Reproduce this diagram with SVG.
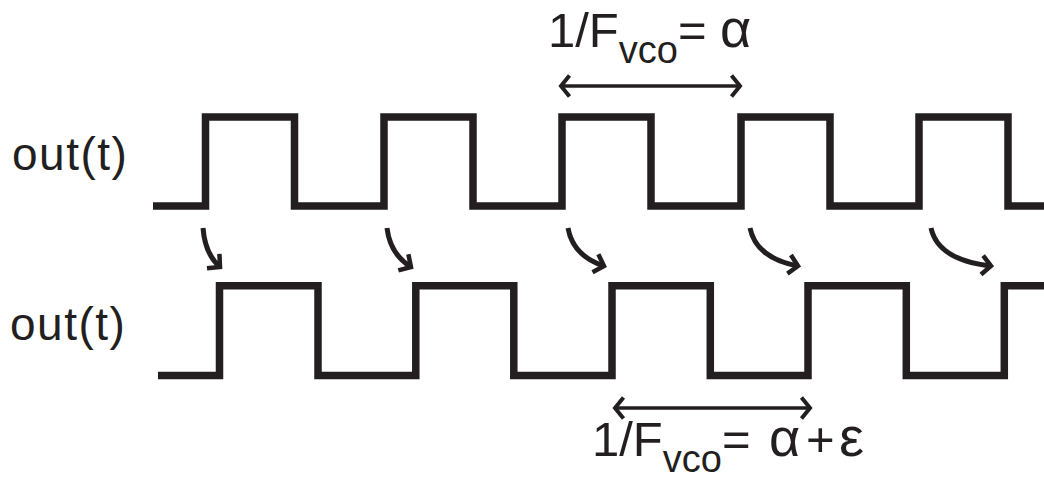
<svg xmlns="http://www.w3.org/2000/svg" width="1044" height="483" viewBox="0 0 1044 483">
  <style>
    .wave { fill: none; stroke: #231f20; stroke-width: 7.5; stroke-linejoin: miter; stroke-linecap: butt; }
    .curve { fill: none; stroke: #231f20; stroke-width: 5; stroke-linecap: butt; }
    .dim { fill: none; stroke: #231f20; stroke-width: 3.5; }
    .lbl { font-family: "Liberation Sans", Arial, sans-serif; fill: #231f20; }
    .out { font-size: 46px; letter-spacing: 1.5px; }
    .greek { font-size: 54px; }
  </style>
  <defs>
    <marker id="chev" markerUnits="userSpaceOnUse" orient="auto" markerWidth="30" markerHeight="30" refX="0" refY="0" viewBox="-15 -15 30 30" overflow="visible">
      <path d="M-9,-9.5 L0,0 L-9,9.5" fill="none" stroke="#231f20" stroke-width="4.5" stroke-linejoin="miter"/>
    </marker>
    <marker id="dimEnd" markerUnits="userSpaceOnUse" orient="auto" markerWidth="30" markerHeight="30" refX="0" refY="0" viewBox="-15 -15 30 30" overflow="visible">
      <path d="M-8.5,-10.5 L0,0 L-8.5,10.5" fill="none" stroke="#231f20" stroke-width="4" stroke-linejoin="miter"/>
    </marker>
    <marker id="dimStart" markerUnits="userSpaceOnUse" orient="auto" markerWidth="30" markerHeight="30" refX="0" refY="0" viewBox="-15 -15 30 30" overflow="visible">
      <path d="M8.5,-10.5 L0,0 L8.5,10.5" fill="none" stroke="#231f20" stroke-width="4" stroke-linejoin="miter"/>
    </marker>
  </defs>

  <g id="label-top">
    <text class="lbl out" x="12" y="170">out(t)</text>
  </g>
  <g id="label-bottom">
    <text class="lbl out" x="10" y="340">out(t)</text>
  </g>

  <g id="wave-top">
    <path class="wave" d="M153 206 H205.5 V117 H294.5 V206 H384 V117 H473 V206 H562 V117 H651 V206 H741 V117 H830 V206 H919 V117 H1008 V206 H1044"/>
  </g>
  <g id="wave-bottom">
    <path class="wave" d="M158 375.5 H219.5 V285.8 H318 V375.5 H415.8 V285.8 H513.8 V375.5 H612 V285.8 H710.3 V375.5 H808 V285.8 H906.3 V375.5 H1004.3 V285.8 H1044"/>
  </g>

  <g id="period-top">
    <text class="lbl" x="548" y="47" font-size="49">1/F<tspan font-size="38" dy="16">vco</tspan><tspan dy="-16">=</tspan><tspan x="720" class="greek">α</tspan></text>
  </g>
  <g id="period-bottom">
    <text class="lbl" x="592" y="456" font-size="49">1/F<tspan font-size="38" dy="16">vco</tspan><tspan dy="-16">=</tspan><tspan x="769" class="greek">α</tspan><tspan x="806">+</tspan><tspan x="839" font-size="56">ε</tspan></text>
  </g>

  <g id="connectors">
    <path class="curve" marker-end="url(#chev)" d="M203 228 Q205 254 220 267"/>
    <path class="curve" marker-end="url(#chev)" d="M387 228 Q390 254 411 267"/>
    <path class="curve" marker-end="url(#chev)" d="M568 228 Q573 256 604 266"/>
    <path class="curve" marker-end="url(#chev)" d="M750 228 Q756 258 798 266"/>
    <path class="curve" marker-end="url(#chev)" d="M931 228 Q938 260 991 266"/>
    <path class="dim" marker-start="url(#dimStart)" marker-end="url(#dimEnd)" d="M561 86 H740"/>
    <path class="dim" marker-start="url(#dimStart)" marker-end="url(#dimEnd)" d="M615 408 H810"/>
  </g>
</svg>
